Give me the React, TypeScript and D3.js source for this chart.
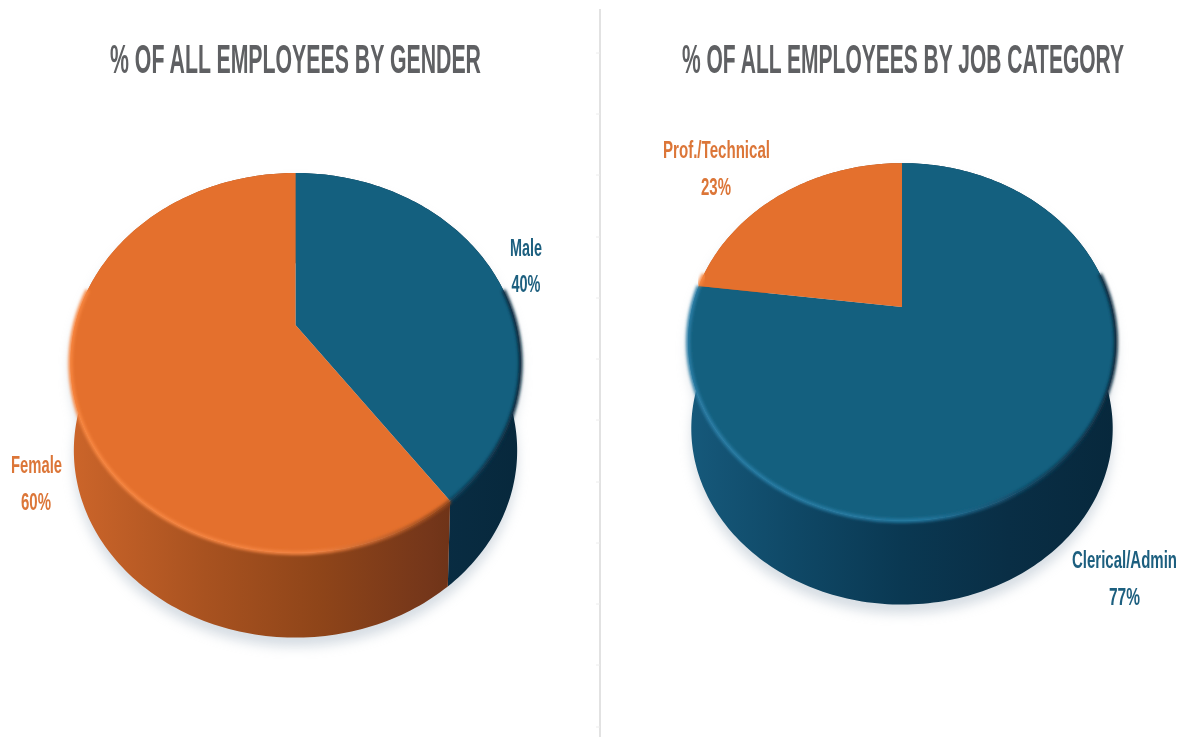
import React from "react";
import * as d3 from "d3";

const genderLabels = ["Male", "Female"];
const genderValues = [40, 60];
const jobLabels = ["Clerical/Admin", "Prof./Technical"];
const jobValues = [77, 23];
const titles = ["% OF ALL EMPLOYEES BY GENDER", "% OF ALL EMPLOYEES BY JOB CATEGORY"];
const dividerTicks = [53, 114, 175, 237, 298, 359, 420, 482, 543, 604, 665, 727];

const BLUE = "#14607f";
const ORANGE = "#e4702d";
const BLUE_TEXT = "#1d5f7f";
const ORANGE_TEXT = "#dc7638";
const FONT = "'Liberation Sans', Arial, sans-serif";

type Stop = [number, string];
const orangeWall: Stop[] = [[0, "#cc652a"], [0.3, "#a85220"], [0.55, "#8f4519"], [0.8, "#74361a"], [1, "#5c2a10"]];
const blueWall: Stop[] = [[0, "#16597b"], [0.25, "#0f4866"], [0.5, "#0a3852"], [0.75, "#092e45"], [1, "#07283c"]];
const orangeRim: Stop[] = [[0, "#f8863f"], [0.55, "#f28240"], [0.8, "#a04d1e"], [1, "#5e2c10"]];
const blueRim: Stop[] = [[0, "#2a7ea6"], [0.55, "#2378a0"], [0.8, "#0f4460"], [1, "#08293d"]];

type Geometry = {
  id: string; cx: number; cy: number; a: number; b: number; k: number; depth: number; shrink: number;
};

// Perspective view of a flat disc: u runs right, v runs toward the viewer.
function project(g: Geometry, angle: number, low: boolean): [number, number] {
  const u = Math.sin(angle);
  const v = -Math.cos(angle);
  const w = 1 + g.k * v;
  const s = low ? g.shrink : 1;
  return [g.cx + (g.a * s * u) / w, g.cy + (low ? g.depth : 0) + (g.b * s * v) / w];
}

const samples = (a0: number, a1: number) => {
  const n = Math.max(2, Math.ceil(Math.abs(a1 - a0) / 0.02));
  return d3.range(n + 1).map((i) => a0 + ((a1 - a0) * i) / n);
};

const pathOf = d3.line<[number, number]>().x((d) => d[0]).y((d) => d[1]);

function Gradient({ id, x1, x2, stops }: { id: string; x1: number; x2: number; stops: Stop[] }) {
  return (
    <linearGradient id={id} gradientUnits="userSpaceOnUse" x1={x1} x2={x2} y1={0} y2={0}>
      {stops.map(([o, c]) => <stop key={o} offset={o} stopColor={c} />)}
    </linearGradient>
  );
}

function Pie3D({ g, labels, values, colors, walls, rims }: {
  g: Geometry; labels: string[]; values: number[]; colors: string[]; walls: Stop[][]; rims: Stop[][];
}) {
  const arcs = d3.pie<number>().sort(null).value((d) => d)(values);
  const full = samples(0, 2 * Math.PI);
  const left = g.cx - g.a * 1.02;
  const right = g.cx + g.a * 1.02;
  const frontStart = Math.PI / 2 - 0.2;
  const frontEnd = (3 * Math.PI) / 2 + 0.2;
  return (
    <g>
      <defs>
        {arcs.map((_, i) => (
          <React.Fragment key={i}>
            <Gradient id={`${g.id}-wall-${i}`} x1={left} x2={right} stops={walls[i]} />
            <Gradient id={`${g.id}-rim-${i}`} x1={left} x2={right} stops={rims[i]} />
          </React.Fragment>
        ))}
      </defs>
      {/* soft ground shadow from both disc outlines */}
      <g filter="url(#ground)" transform="translate(0,9)" fill="#aebbc8" opacity={0.5}>
        <path d={pathOf(full.map((t) => project(g, t, false)))! + "Z"} />
        <path d={pathOf(full.map((t) => project(g, t, true)))! + "Z"} />
      </g>
      {arcs.map((d, i) => {
        const ts = samples(d.startAngle, d.endAngle);
        const outline = [...ts.map((t) => project(g, t, false)), ...ts.slice().reverse().map((t) => project(g, t, true))];
        return <path key={labels[i]} d={pathOf(outline)! + "Z"} fill={`url(#${g.id}-wall-${i})`} />;
      })}
      {arcs.map((d, i) => {
        const pts = [[g.cx, g.cy] as [number, number], ...samples(d.startAngle, d.endAngle).map((t) => project(g, t, false))];
        return <path key={labels[i]} d={pathOf(pts)! + "Z"} fill={colors[i]} />;
      })}
      {/* bevel along the front edge of the top face */}
      {arcs.map((d, i) => {
        const a0 = Math.max(d.startAngle, frontStart);
        const a1 = Math.min(d.endAngle, frontEnd);
        if (a1 <= a0) return null;
        return (
          <path key={labels[i]} d={pathOf(samples(a0, a1).map((t) => project(g, t, false)))!} fill="none"
            stroke={`url(#${g.id}-rim-${i})`} strokeWidth={4} filter="url(#bevel)" />
        );
      })}
    </g>
  );
}

function Label({ x, y, w, text, fill, size = 23 }: { x: number; y: number; w: number; text: string; fill: string; size?: number }) {
  return (
    <text x={x} y={y} textAnchor="middle" textLength={w} lengthAdjust="spacingAndGlyphs"
      fontFamily={FONT} fontWeight={700} fontSize={size} fill={fill}>{text}</text>
  );
}

const leftPie: Geometry = { id: "gender", cx: 295.5, cy: 325, a: 220.5, b: 182.4, k: -0.2, depth: 88, shrink: 0.985 };
const rightPie: Geometry = { id: "job", cx: 902, cy: 307, a: 209.8, b: 172, k: -0.1955, depth: 87, shrink: 0.985 };

export default function App() {
  return (
    <svg width={1188} height={737} viewBox="0 0 1188 737"
      style={{ position: "absolute", left: 0, top: 0, background: "#fff", display: "block" }}>
      <defs>
        <filter id="ground" x="-20%" y="-20%" width="140%" height="140%"><feGaussianBlur stdDeviation={6} /></filter>
        <filter id="bevel" x="-10%" y="-20%" width="120%" height="140%"><feGaussianBlur stdDeviation={1.6} /></filter>
        <filter id="soft" x="-5%" y="-20%" width="110%" height="140%"><feGaussianBlur stdDeviation={0.5} /></filter>
      </defs>

      <line x1={600} x2={600} y1={9} y2={737} stroke="#e2e2e2" strokeWidth={2} />
      {dividerTicks.map((y) => <line key={y} x1={596} x2={600} y1={y} y2={y} stroke="#ececec" strokeWidth={1} />)}

      <Pie3D g={leftPie} labels={genderLabels} values={genderValues} colors={[BLUE, ORANGE]}
        walls={[blueWall, orangeWall]} rims={[blueRim, orangeRim]} />
      <Pie3D g={rightPie} labels={jobLabels} values={jobValues} colors={[BLUE, ORANGE]}
        walls={[blueWall, orangeWall]} rims={[blueRim, orangeRim]} />

      <g filter="url(#soft)">
        <Label x={295.5} y={73} w={371} text={titles[0]} fill="#5f6163" size={40} />
        <Label x={903} y={73} w={442} text={titles[1]} fill="#5f6163" size={40} />

        <Label x={526} y={256} w={32} text={genderLabels[0]} fill={BLUE_TEXT} />
        <Label x={526} y={292} w={29} text={`${genderValues[0]}%`} fill={BLUE_TEXT} />
        <Label x={36.5} y={473} w={51} text={genderLabels[1]} fill={ORANGE_TEXT} />
        <Label x={36} y={510} w={30} text={`${genderValues[1]}%`} fill={ORANGE_TEXT} />

        <Label x={716.5} y={158} w={107} text={jobLabels[1]} fill={ORANGE_TEXT} />
        <Label x={716} y={195} w={30} text={`${jobValues[1]}%`} fill={ORANGE_TEXT} />
        <Label x={1124.5} y={568} w={105} text={jobLabels[0]} fill={BLUE_TEXT} />
        <Label x={1124.5} y={605} w={31} text={`${jobValues[0]}%`} fill={BLUE_TEXT} />
      </g>
    </svg>
  );
}
